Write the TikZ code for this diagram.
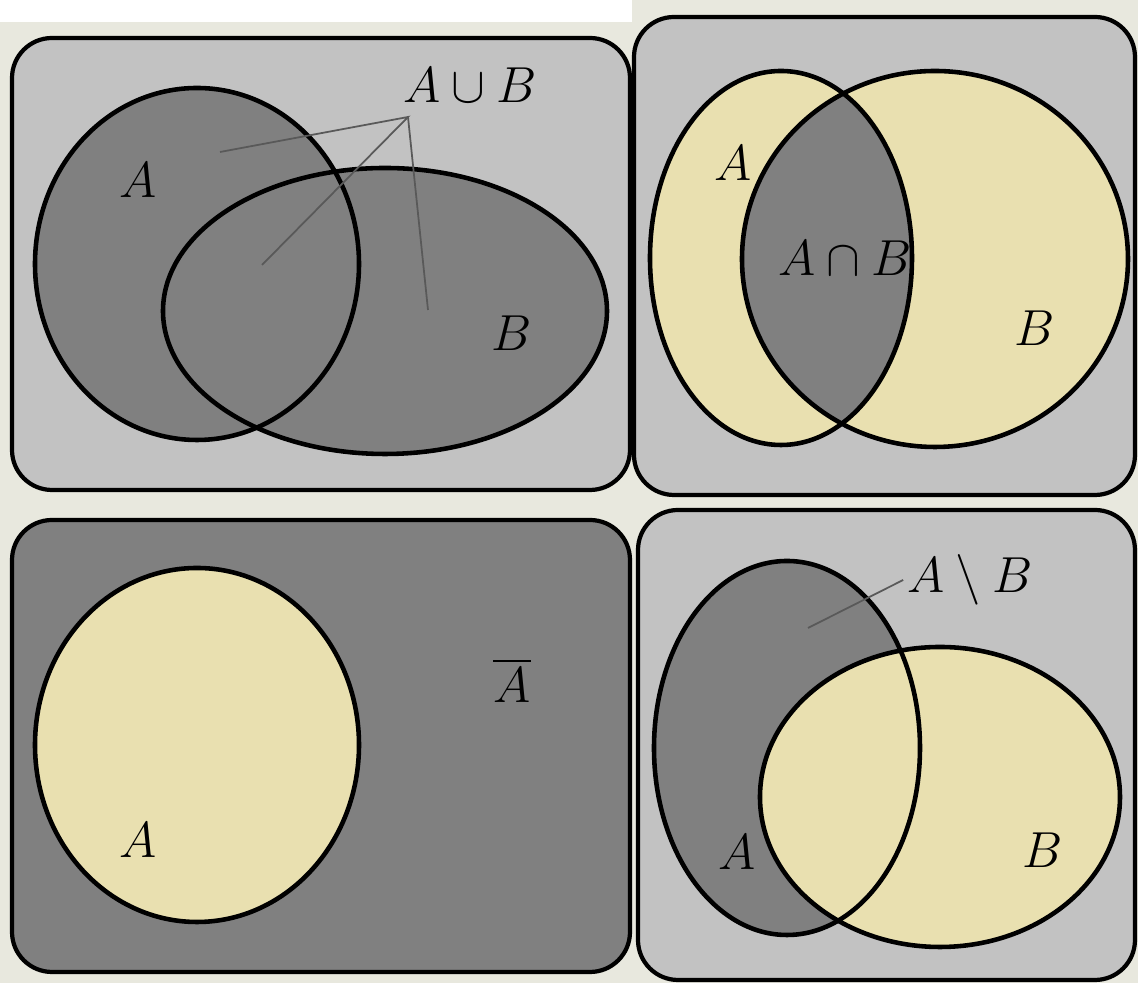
\documentclass[tikz,border=0pt]{standalone}
\usepackage{amsmath,amssymb}
\usepackage{tikz}
\usetikzlibrary{positioning}

\definecolor{backbeige}{HTML}{E8E8DE}
\definecolor{panelgrey}{HTML}{C2C2C2}
\definecolor{setgrey}{HTML}{808080}
\definecolor{setyellow}{HTML}{E9E0B0}

\tikzset{
  panel/.style={draw=black, line width=1.2pt, rounded corners=0.4cm},
  setline/.style={draw=black, line width=1.3pt},
  lbl/.style={font=\fontsize{15}{18}\selectfont, inner sep=1pt},
  pointer/.style={draw=black!65, line width=0.5pt}
}

\begin{document}
\begin{tikzpicture}[x=0.01cm, y=-0.01cm]
        \useasboundingbox (0,0) rectangle (1138,983);
        \fill[backbeige] (0,0) rectangle (1138,983);
        \fill[white] (0,0) rectangle (632,22);

        % union
        \filldraw[panel, fill=panelgrey] (12,38) rectangle (630,490);
        \fill[setgrey] (197,264) ellipse [x radius=162, y radius=176];
        \fill[setgrey] (385,311) ellipse [x radius=222, y radius=143];
        \draw[setline] (197,264) ellipse [x radius=162, y radius=176];
        \draw[setline] (385,311) ellipse [x radius=222, y radius=143];
        \node[lbl] (a1) at (138,180) {$A$};
        \node[lbl] (b1) at (512,333) {$B$};
        \node[lbl] (aub) at (470,85) {$A\cup B$};
        \coordinate (hub) at (408,117);
        \coordinate (ua) at (220,152);
        \coordinate (uab) at (262,265);
        \coordinate (ub) at (428,310);
        \draw[pointer] (ua) -- (hub) -- (uab);
        \draw[pointer] (hub) -- (ub);

        % intersection
        \filldraw[panel, fill=panelgrey] (634,17) rectangle (1135,495);
        \fill[setyellow] (781,258) ellipse [x radius=131, y radius=187];
        \fill[setyellow] (935,259) ellipse [x radius=193, y radius=188];
        \begin{scope}
            \clip (781,258) ellipse [x radius=131, y radius=187];
            \fill[setgrey] (935,259) ellipse [x radius=193, y radius=188];
        \end{scope}
        \draw[setline] (781,258) ellipse [x radius=131, y radius=187];
        \draw[setline] (935,259) ellipse [x radius=193, y radius=188];
        \node[lbl] (a2) at (733,163) {$A$};
        \node[lbl] (b2) at (1035,328) {$B$};
        \node[lbl] (anb) at (845,258) {$A\cap B$};

        % complement
        \filldraw[panel, fill=setgrey] (12,520) rectangle (630,972);
        \filldraw[setline, fill=setyellow] (197,745) ellipse [x radius=162, y radius=177];
        \node[lbl] (a3) at (138,840) {$A$};
        \node[lbl] (abar) at (512,680) {$\overline{A}$};

        % difference
        \filldraw[panel, fill=panelgrey] (638,510) rectangle (1135,980);
        \fill[setgrey] (787,748) ellipse [x radius=133, y radius=187];
        \fill[setyellow] (940,797) ellipse [x radius=180, y radius=150];
        \draw[setline] (787,748) ellipse [x radius=133, y radius=187];
        \draw[setline] (940,797) ellipse [x radius=180, y radius=150];
        \node[lbl] (a4) at (737,852) {$A$};
        \node[lbl] (b4) at (1043,850) {$B$};
        \node[lbl] (amb) at (970,580) {$A\setminus B$};
        \coordinate (dm) at (808,628);
        \draw[pointer] (amb.west) -- (dm);
\end{tikzpicture}
\end{document}
